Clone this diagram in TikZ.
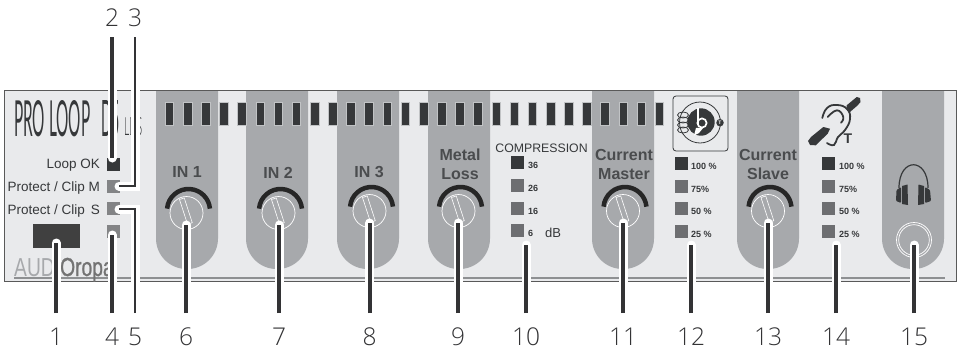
\documentclass[tikz,border=0pt]{standalone}
\usepackage{fontspec}
\usepackage{graphicx}
\setmainfont{Liberation Sans}
\newfontfamily\lightf{Open Sans}[UprightFont=* Light]
\newfontfamily\titlef{Lato}
\newfontfamily\brandf{Liberation Sans}[UprightFeatures={FakeBold=1.2}]
\definecolor{panelc}{HTML}{E9EAEC}
\definecolor{colc}{HTML}{A7A9AC}
\definecolor{darkc}{HTML}{36383A}
\definecolor{ledc}{HTML}{6D6E71}
\definecolor{leadc}{HTML}{333335}
\newcommand{\fsz}[1]{\fontsize{#1}{#1}\selectfont}
\tikzset{
  column/.style={fill=colc},
  segment/.style={fill=darkc,draw=colc!70!white,line width=.4pt},
  darkled/.style={fill=darkc,inner sep=0pt,minimum size=13pt,rectangle},
  greyled/.style={fill=ledc,inner sep=0pt,minimum size=13pt,rectangle},
  smalltxt/.style={font=\bfseries\fsz{9},text=darkc,inner sep=0pt,anchor=west},
  sidetxt/.style={font=\fsz{13.5},text=darkc,inner sep=0pt,anchor=east},
  knobtxt/.style={font=\bfseries\fsz{16},text=darkc!90!white,inner sep=0pt,align=center},
  numlabel/.style={font=\lightf\fsz{24.5},text=leadc,inner sep=0pt},
  halo/.style={draw=white,line width=9pt,line cap=round,line join=miter},
  leader/.style={draw=leadc,line width=3.6pt},
}
\newcommand{\Knob}[2]{%
  \begin{scope}[shift={(#1,#2)},y=1pt]
    \draw[white,line width=.7pt] (0,0) circle (16.5);
    \draw[white,line width=.6pt,rotate=18] (-2.5,-11) rectangle (2.5,15);
    \draw[black!85,line width=4.5pt] (2,2.5) ++(175:21.5) arc (175:5:21.5);
  \end{scope}}
\newcommand{\Column}[1]{%
  \fill[column] (#1,91) [rounded corners=30.5pt] -- (#1,269) -- (#1+62,269) [sharp corners] -- (#1+62,91) -- cycle;}
\begin{document}
\begin{tikzpicture}[x=1pt,y=-1pt]
\useasboundingbox (0,0) rectangle (958,351);
% panel
\fill[panelc] (4.5,90.5) rectangle (956,281.5);
\foreach \cx in {156,246,337,428,592,737,882} {\Column{\cx}}
\draw[colc!85!black,line width=1.4pt] (14,278) -- (945,278);
\draw[black!65,line width=1pt] (4.5,90.5) rectangle (956,281.5);
% LED bar
\foreach \i in {0,...,27} {
  \pgfmathsetmacro{\sx}{165+18.15*\i}
  \filldraw[segment] (\sx,102) rectangle (\sx+8.6,125);
}
% title
\node[anchor=south west,inner sep=0pt,text=darkc] (ttlA) at (14,137) {\resizebox{76pt}{36pt}{\titlef PRO LOOP}};
\node[anchor=south west,inner sep=0pt,text=darkc] (ttlB) at (101,137) {\resizebox{19pt}{36pt}{\titlef D5}};
\node[anchor=south west,inner sep=0pt,text=darkc] (ttlC) at (124,136) {\resizebox{18pt}{18pt}{\lightf LDS}};
% left side
\node[sidetxt] (tLoop) at (100,165.5) {Loop OK};
\node[sidetxt] (tProtM) at (100,188) {Protect / Clip M};
\node[sidetxt] (tProtS) at (100,211) {Protect / Clip\, S};
\node[darkled] (ledA) at (113,164) {};
\node[greyled,fill=ledc!85!white] (ledB) at (113,186) {};
\node[greyled,fill=ledc!85!white] (ledC) at (113,208) {};
\node[greyled,fill=ledc!85!white] (ledD) at (113,231) {};
\node[fill=black!75,inner sep=0pt,minimum width=47pt,minimum height=24pt] (usb) at (56.5,236) {};
\node[anchor=base west,inner sep=0pt,text=colc] (brand) at (14,276) {\scalebox{.74}[1]{\fsz{26}AUDI\brandf\textcolor{black!55}{Oropa}}};
% knob labels
\node[knobtxt] (lIn1) at (187,172) {IN 1};
\node[knobtxt] (lIn2) at (278,173) {IN 2};
\node[knobtxt] (lIn3) at (369,172) {IN 3};
\node[knobtxt] (lMetal) at (460,164) {Metal\\[3pt]Loss};
\node[knobtxt] (lMaster) at (624,164) {Current\\[3pt]Master};
\node[knobtxt] (lSlave) at (768,164) {Current\\[3pt]Slave};
\Knob{186.5}{213}
\Knob{278.5}{213}
\Knob{369.5}{211}
\Knob{458.5}{211}
\Knob{623}{211}
\Knob{768}{211}
% compression
\node[font=\fsz{12.3},text=darkc,inner sep=0pt] (comp) at (541.5,148.5) {COMPRESSION};
\foreach \yy/\tt/\st/\nm in {162.5/36/darkled/a,185.5/26/greyled/b,208.5/16/greyled/c,230.5/6/greyled/d} {
  \node[\st] (cl\nm) at (517.5,\yy) {};
  \node[smalltxt] (ct\nm) at (528,\yy+2.5) {\tt};
}
\node[font=\fsz{13},text=darkc,inner sep=0pt,anchor=west] (dbt) at (545,233) {dB};
% percentage columns
\foreach \xx/\tx/\nm in {681.5/691/p,828.5/839/q} {
  \foreach \yy/\tt/\st/\mm in {163.5/100 \%/darkled/a,186.5/75\%/greyled/b,208.5/50 \%/greyled/c,231.5/25 \%/greyled/d} {
    \node[\st] (\nm l\mm) at (\xx,\yy) {};
    \node[smalltxt] (\nm t\mm) at (\tx,\yy+2.5) {\tt};
  }
}
% loop icon
\draw[darkc,line width=.8pt,rounded corners=3pt] (673,96) rectangle (728,151);
\draw[darkc,line width=.8pt] (700,122.5) circle (20.5);
\fill[darkc] (701,122) circle (13.7);
\draw[white,line width=1.8pt] (698,108) -- (698,124);
\draw[white,line width=1.7pt] (702,123) circle (4.6);
\fill[white] (696,128) -- (703.5,127.5) -- (699,133) -- (694,135.5) -- cycle;
\foreach \cy in {115,120,125,130} {\draw[darkc,line width=.8pt] (683,\cy) ellipse (5.5 and 3);}
\node[circle,fill=darkc,inner sep=0pt,minimum size=7.5pt,text=white,font=\bfseries\fsz{5}] (tc) at (720,122.7) {T};
% ear icon
\fill[darkc] (811,137) -- (823.3,127) -- (830,128.7) -- (827.7,133.7) -- (815.7,145.3) -- (810,145) -- (808,141) -- cycle;
\fill[darkc] (846.7,105.3) -- (856.7,97) -- (860,98) -- (860.5,102) -- (857.7,105.3) -- (850,112) -- (846.7,108.7) -- cycle;
\draw[darkc,line width=1.8pt,line cap=round] plot[smooth,tension=.8] coordinates {(822.3,118) (827,108) (837,105) (847,109) (850,119) (845,130) (838,137) (834,145) (827,143)};
\draw[darkc,line width=1.8pt,line cap=round] plot[smooth,tension=.8] coordinates {(827.7,117) (837,110.3) (843.3,117) (841,122.7)};
\node[font=\bfseries\fsz{14},text=darkc,inner sep=0pt] (earT) at (848,139) {T};
% headphones
\draw[darkc,line width=1.2pt] (899,188) .. controls (899,157) and (928,157) .. (928,188);
\fill[darkc,rounded corners=1pt] (901,187) -- (896.5,190) -- (896,201) -- (901,203) -- cycle;
\fill[darkc] (902,186) -- (907.5,184.5) -- (908,205) -- (902,204) -- cycle;
\fill[darkc,rounded corners=1pt] (925,187) -- (930,190) -- (931,201) -- (925,203) -- cycle;
\fill[darkc] (924,186) -- (918.5,184.5) -- (918,205) -- (924,204) -- cycle;
\draw[white,line width=.7pt] (914,240) circle (17.5);
\draw[white,line width=.7pt] (914,240) circle (15.3);
% number labels
\node[numlabel] (n2) at (112,18) {2};
\node[numlabel] (n3) at (135,18) {3};
\node[numlabel] (n1) at (56,337) {1};
\node[numlabel] (n4) at (112,337) {4};
\node[numlabel] (n5) at (135,337) {5};
\node[numlabel] (n6) at (186,337) {6};
\node[numlabel] (n7) at (279,337) {7};
\node[numlabel] (n8) at (369.7,337) {8};
\node[numlabel] (n9) at (458,337) {9};
\node[numlabel] (n10) at (526,337) {10};
\node[numlabel] (n11) at (623,337) {11};
\node[numlabel] (n12) at (691,337) {12};
\node[numlabel] (n13) at (768,337) {13};
\node[numlabel] (n14) at (836,337) {14};
\node[numlabel] (n15) at (914,337) {15};
% leader ends
\foreach \nm/\tx/\ty/\by in {1/56/243/313,4/112/235/313,6/186/225/313,7/279/225/313,8/369.7/223/313,9/458/223/313,10/526/245/313,11/623/223/313,12/691/245/313,13/768/223/313,14/836/245/313,15/914/245/313} {
  \coordinate (s\nm) at (\tx,\by);
  \coordinate (e\nm) at (\tx,\ty);
}
\coordinate (s2) at (112,37); \coordinate (e2) at (112,158);
\coordinate (s3) at (135,37); \coordinate (c3) at (135,186); \coordinate (e3) at (119,186);
\coordinate (s5) at (135,313); \coordinate (c5) at (135,209); \coordinate (e5) at (119,209);
% halos
\foreach \nm in {1,4,6,7,8,9,10,11,12,13,14,15,2} {\draw[halo] (s\nm) -- (e\nm);}
\draw[halo] (s3) -- (c3) -- (e3);
\draw[halo] (s5) -- (c5) -- (e5);
% leaders
\foreach \nm in {1,4,6,7,8,9,10,11,12,13,14,15,2} {\draw[leader] (s\nm) -- (e\nm);}
\draw[leader,line width=2.6pt] (s3) -- (c3) -- (e3);
\draw[leader,line width=2.6pt] (s5) -- (c5) -- (e5);
\end{tikzpicture}
\end{document}
